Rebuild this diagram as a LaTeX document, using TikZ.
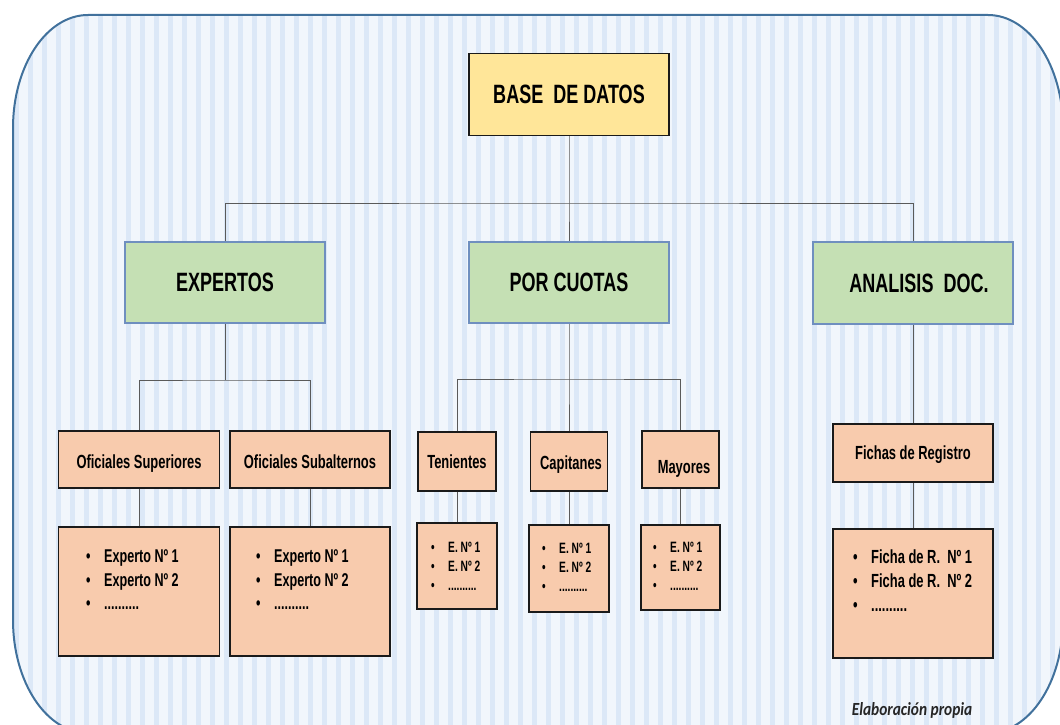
\documentclass[tikz,border=0pt]{standalone}
\usepackage{fontspec}
\setmainfont{Liberation Sans}[FakeStretch=0.68]
\newfontfamily\notefont{Carlito}[FakeStretch=0.83]
\definecolor{yel}{HTML}{FFE699}
\definecolor{grn}{HTML}{C5E0B4}
\definecolor{pch}{HTML}{F8CBAD}
\definecolor{frame}{HTML}{41719C}
\definecolor{bgA}{HTML}{F1F6FC}
\definecolor{bgB}{HTML}{DCE8F7}
\definecolor{boxline}{HTML}{1A1A1A}
\definecolor{gline}{HTML}{6F8FBF}
\definecolor{connc}{HTML}{5A5A5A}
\definecolor{notec}{HTML}{262626}
\newcommand\blist[4]{\begin{tabular}[t]{@{}l@{}}\makebox[#1][l]{•}#2\\\makebox[#1][l]{•}#3\\\makebox[#1][l]{•}#4\end{tabular}}
\tikzset{
  box/.style={draw=boxline, line width=1.4pt, inner sep=0pt, align=center},
  ybox/.style={box, fill=yel, minimum width=200pt, minimum height=82pt, font=\fontsize{26.5}{30}\selectfont\bfseries},
  gbox/.style={box, draw=gline, fill=grn, minimum width=200pt, minimum height=81pt, font=\fontsize{26.5}{30}\selectfont\bfseries},
  pbox/.style={box, fill=pch},
  ptitle/.style={pbox, text height=13.5pt, text depth=0pt, font=\fontsize{19}{22}\selectfont\bfseries},
  conn/.style={draw=connc, line width=1pt},
  biglist/.style={anchor=base west, inner sep=0pt, font=\fontsize{18.5}{23.5}\selectfont\bfseries},
  smalllist/.style={anchor=base west, inner sep=0pt, font=\fontsize{15}{19}\selectfont\bfseries},
  ficlist/.style={anchor=base west, inner sep=0pt, font=\fontsize{19}{24}\selectfont\bfseries},
  note/.style={anchor=base, inner sep=0pt, text=notec, font=\notefont\fontsize{18.5}{22}\selectfont\bfseries\itshape}
}
\begin{document}
\begin{tikzpicture}[x=1pt,y=-1pt]
\useasboundingbox (0,0) rectangle (1060,725);
% background panel
\begin{scope}
\clip (88,15) -- (988,15) arc[start angle=-90,end angle=0,x radius=75,y radius=113]
  -- (1063,620) arc[start angle=0,end angle=90,x radius=75,y radius=113]
  -- (88,733) arc[start angle=90,end angle=180,x radius=75,y radius=113]
  -- (13,128) arc[start angle=180,end angle=270,x radius=75,y radius=113] -- cycle;
\fill[bgA] (0,0) rectangle (1080,760);
\foreach \x in {0,14,...,1072} \fill[bgB] (\x,0) rectangle ++(5,760);
\end{scope}
\draw[frame, line width=2pt] (88,15) -- (988,15) arc[start angle=-90,end angle=0,x radius=75,y radius=113]
  -- (1063,620) arc[start angle=0,end angle=90,x radius=75,y radius=113]
  -- (88,733) arc[start angle=90,end angle=180,x radius=75,y radius=113]
  -- (13,128) arc[start angle=180,end angle=270,x radius=75,y radius=113] -- cycle;

% junction points
\coordinate (j1) at (569,203);
\coordinate (j2) at (225,380);
\coordinate (j3) at (569,379);

% nodes
\node[ybox] (base) at (569,94.5) {BASE\ \ DE DATOS};
\node[gbox] (exp) at (225,282.5) {EXPERTOS};
\node[gbox] (cuo) at (569,282.5) {POR CUOTAS};
\node[gbox, minimum height=82pt] (ana) at (913,283) {\hspace*{12pt}ANALISIS\ \ DOC.};

\node[ptitle, minimum width=161pt, minimum height=57pt] (osup) at (139,459.5) {\raisebox{-2pt}{Oficiales Superiores}};
\node[ptitle, minimum width=160pt, minimum height=57pt] (osub) at (310,459.5) {\raisebox{-2pt}{Oficiales Subalternos}};
\node[ptitle, minimum width=78pt, minimum height=59pt] (ten) at (457,461.5) {Tenientes};
\node[ptitle, minimum width=77pt, minimum height=59pt] (cap) at (569,461.5) {\hspace*{4pt}\raisebox{-1.5pt}{Capitanes}};
\node[ptitle, minimum width=77pt, minimum height=57pt] (may) at (680.5,459.5) {\hspace*{7pt}\raisebox{-7pt}{Mayores}};
\node[ptitle, minimum width=160pt, minimum height=58pt] (fich) at (913,453) {Fichas de Registro};

\node[pbox, minimum width=161pt, minimum height=129pt] (exa) at (139,591.5) {};
\node[pbox, minimum width=160pt, minimum height=129pt] (exb) at (310,591.5) {};
\node[pbox, minimum width=80pt, minimum height=86pt] (la) at (457,566) {};
\node[pbox, minimum width=80pt, minimum height=87pt] (lb) at (569,568.5) {};
\node[pbox, minimum width=79pt, minimum height=85pt] (lc) at (680.5,567.5) {};
\node[pbox, minimum width=160pt, minimum height=129pt] (fr) at (913,593.5) {};

% list texts
\node[biglist] (exat) at (86,562.5) {\blist{18pt}{Experto Nº 1}{Experto Nº 2}{..........}};
\node[biglist] (exbt) at (256,562.5) {\blist{18pt}{Experto Nº 1}{Experto Nº 2}{..........}};
\node[smalllist] (lat) at (431,552) {\blist{17pt}{E. Nº 1}{E. Nº 2}{..........}};
\node[smalllist] (lbt) at (542,553) {\blist{17pt}{E. Nº 1}{E. Nº 2}{..........}};
\node[smalllist] (lct) at (653,552) {\blist{17pt}{E. Nº 1}{E. Nº 2}{..........}};
\node[ficlist] (frt) at (853,563) {\blist{18pt}{Ficha de R.\ \ Nº 1}{Ficha de R.\ \ Nº 2}{..........}};

\node[note] (nt) at (912,715) {Elaboración propia};

% connectors
\draw[conn] (base) -- (j1) -- (cuo);
\draw[conn] (exp.north) |- (j1) -| (ana.north);
\draw[conn] (exp) -- (j2);
\draw[conn] (osup.north) |- (j2) -| (osub.north);
\draw[conn] (cuo) -- (j3) -- (cap);
\draw[conn] (ten.north) |- (j3) -| (may.north);
\draw[conn] (ana) -- (fich);
\draw[conn] (osup) -- (exa);
\draw[conn] (osub) -- (exb);
\draw[conn] (ten) -- (la);
\draw[conn] (cap) -- (lb);
\draw[conn] (may) -- (lc);
\draw[conn] (fich) -- (fr);
\end{tikzpicture}
\end{document}
